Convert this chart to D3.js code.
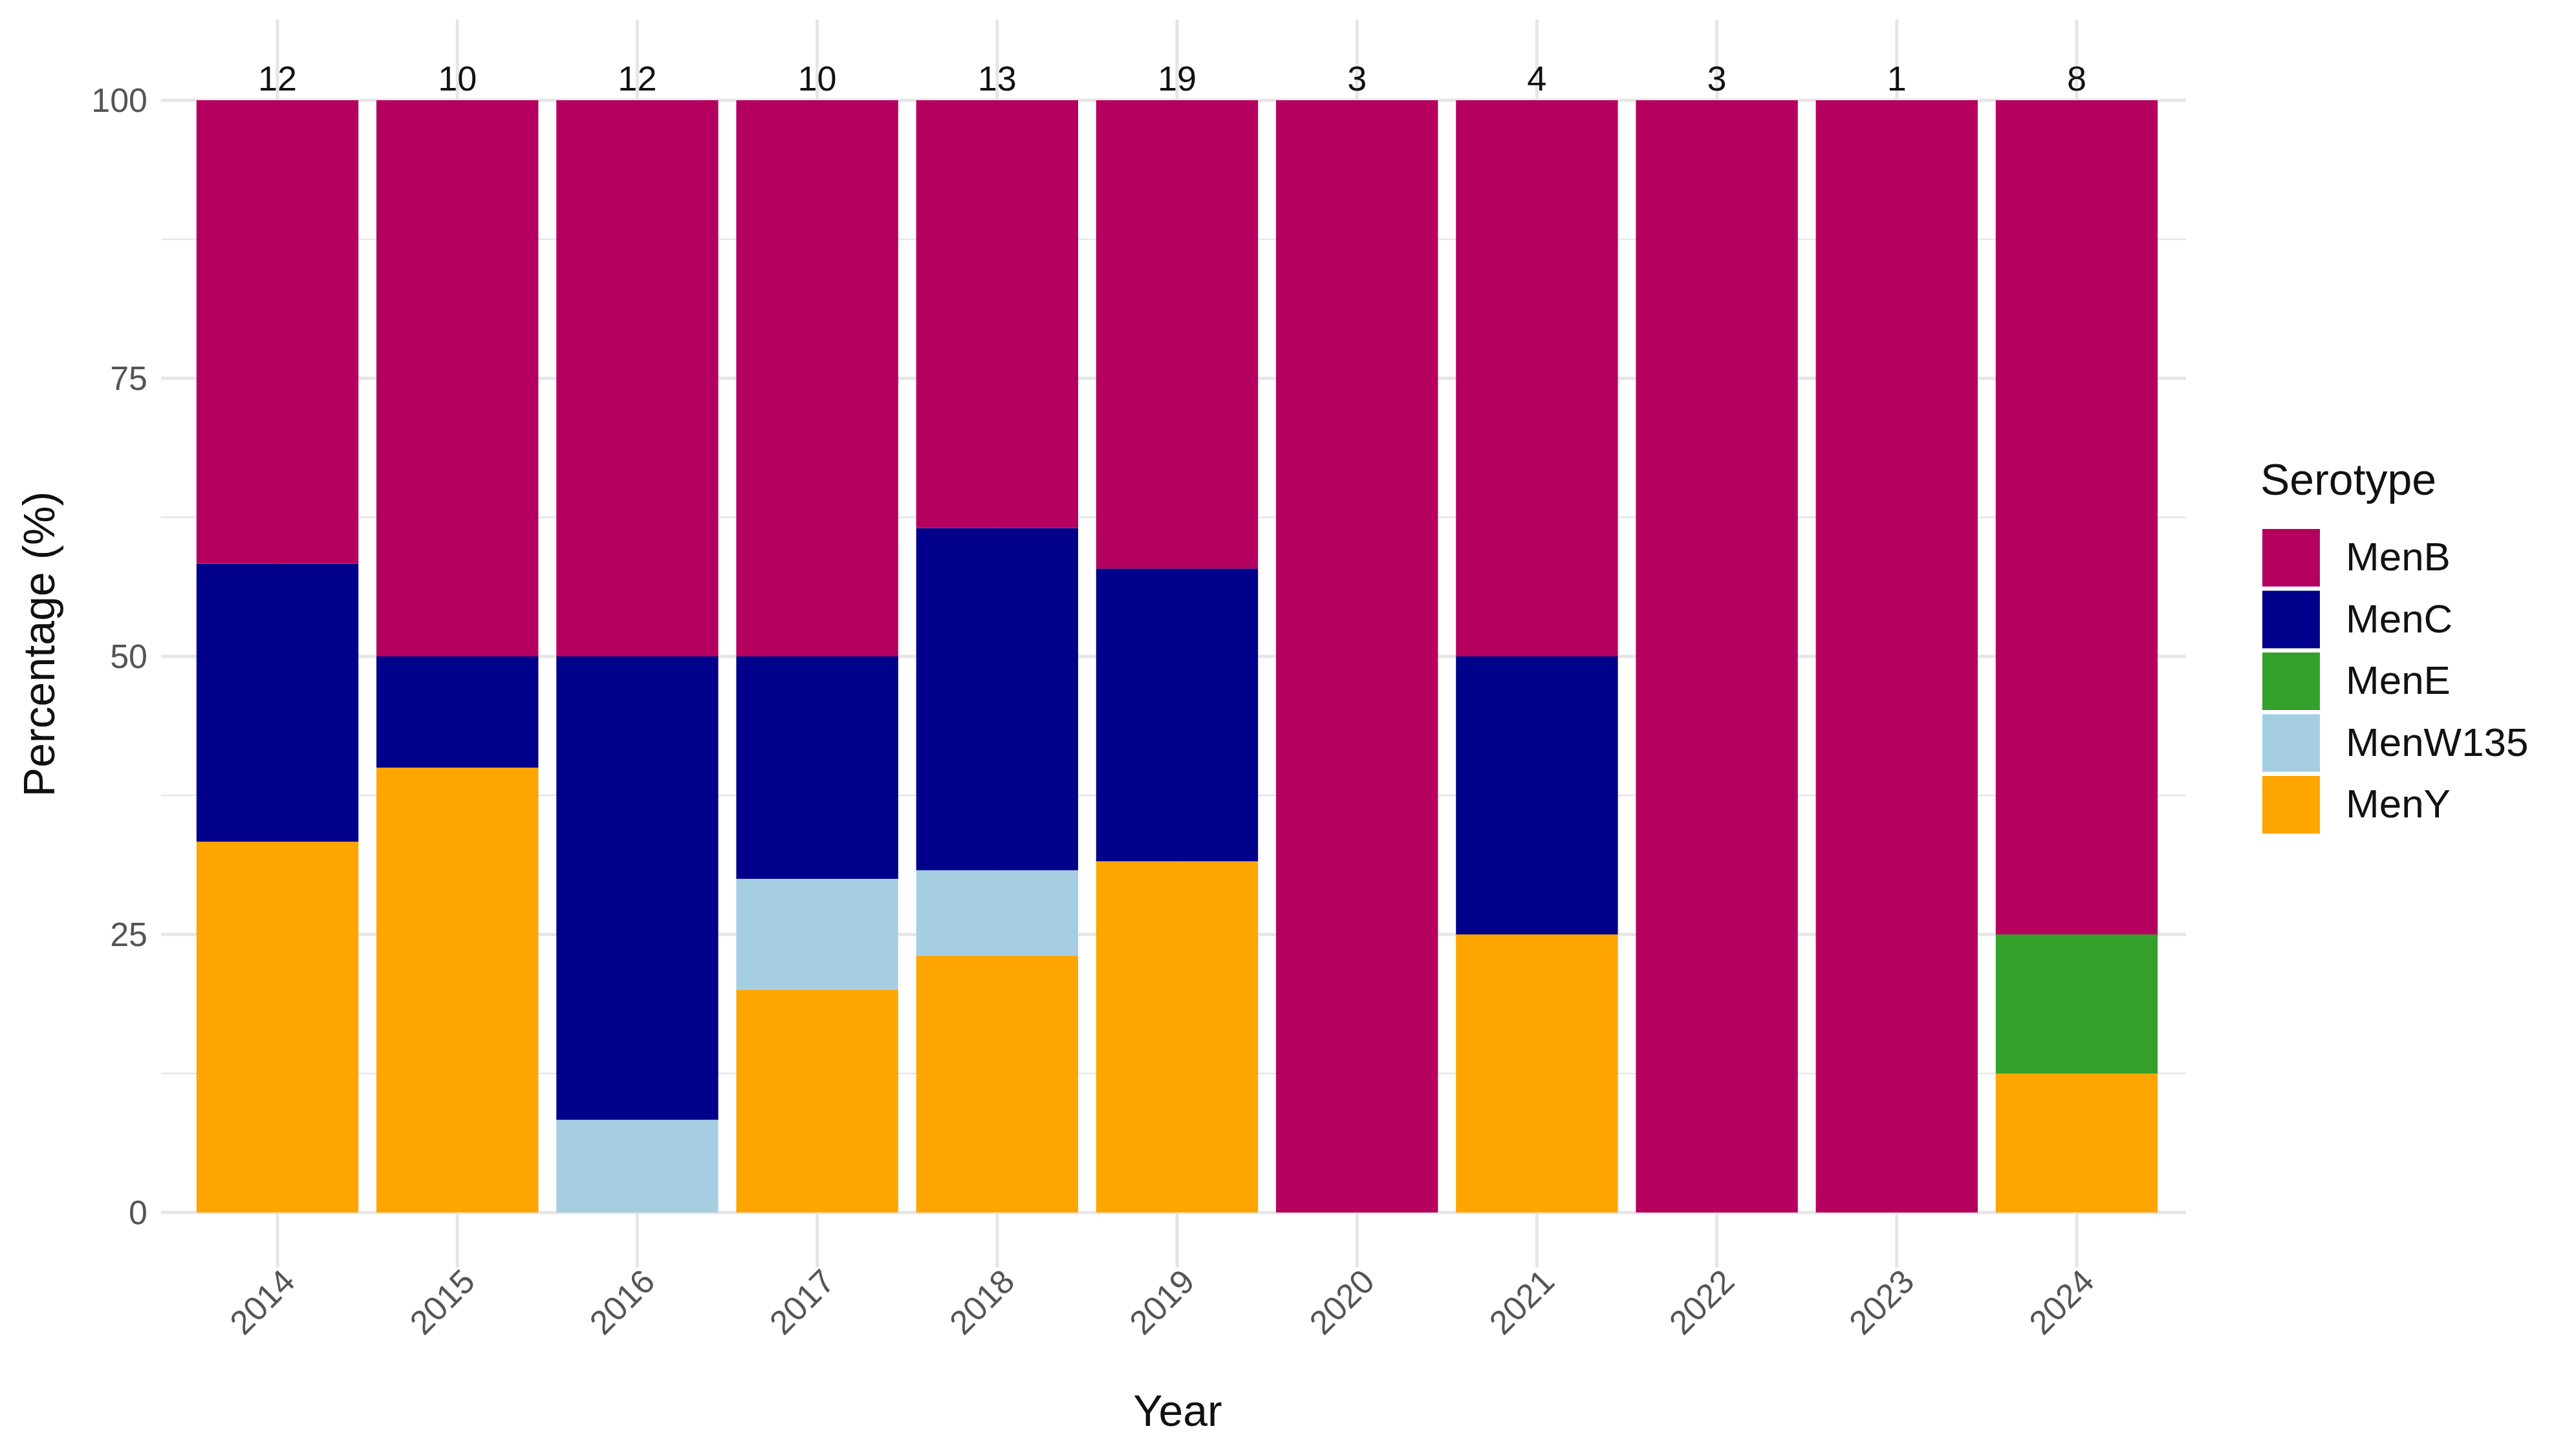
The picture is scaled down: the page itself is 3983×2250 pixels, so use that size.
<!DOCTYPE html>
<html><head><meta charset="utf-8">
<script src="https://cdn.jsdelivr.net/npm/d3@7"></script>
<style>body{margin:0;background:#fff}</style>
</head><body>
<svg id="c" width="3983" height="2250"></svg>
<script>
const years = ["2014","2015","2016","2017","2018","2019","2020","2021","2022","2023","2024"];
const totals = [12,10,12,10,13,19,3,4,3,1,8];
const serotypes = ["MenB","MenC","MenE","MenW135","MenY"];
const colors = ["#B5005F","#00008B","#33A02C","#A6CEE3","#FFA500"];
const menY    = [4,4,0,2,3,6,0,1,0,0,1];
const menW135 = [0,0,1,1,1,0,0,0,0,0,0];
const menE    = [0,0,0,0,0,0,0,0,0,0,1];
const menC    = [3,1,5,2,4,5,0,1,0,0,0];
const menB    = [5,5,6,5,5,8,3,2,3,1,6];
const yTicks = [0,25,50,75,100];

const counts = {MenY:menY, MenW135:menW135, MenE:menE, MenC:menC, MenB:menB};
const stackOrder = ["MenY","MenW135","MenE","MenC","MenB"];
const rows = years.map((y,i)=>{const r={year:y}; stackOrder.forEach(s=>r[s]=counts[s][i]/totals[i]*100); return r;});
const series = d3.stack().keys(stackOrder)(rows);
const color = d3.scaleOrdinal(serotypes, colors);

const svg = d3.select("#c");
const x = d3.scaleBand(years,[276,3364]).padding(0.1);
const y = d3.scaleLinear([0,100],[1875,155]);
const grid = svg.append("g");
d3.range(0,101,12.5).forEach(v=>{
  grid.append("line").attr("x1",249).attr("x2",3380).attr("y1",y(v)).attr("y2",y(v))
   .attr("stroke","#e6e6e6").attr("stroke-width",v%25===0?5:2.5);
});
years.forEach(yr=>{
  const cx=x(yr)+x.bandwidth()/2;
  grid.append("line").attr("x1",cx).attr("x2",cx).attr("y1",30).attr("y2",1960).attr("stroke","#e6e6e6").attr("stroke-width",5);
});
svg.append("g").selectAll("g").data(series).join("g").attr("fill",d=>color(d.key))
 .selectAll("rect").data(d=>d).join("rect")
 .attr("x",d=>x(d.data.year)).attr("width",x.bandwidth())
 .attr("y",d=>y(d[1])).attr("height",d=>y(d[0])-y(d[1]));
const font="Liberation Sans, Arial, sans-serif";
svg.append("g").selectAll("text").data(years).join("text")
 .attr("x",d=>x(d)+x.bandwidth()/2).attr("y",140).attr("text-anchor","middle")
 .attr("font-family",font).attr("font-size",54).attr("fill","#111").text((d,i)=>totals[i]);
svg.append("g").selectAll("text").data(yTicks).join("text")
 .attr("x",228).attr("y",d=>y(d)+18).attr("text-anchor","end")
 .attr("font-family",font).attr("font-size",52).attr("fill","#555").text(d=>d);
svg.append("g").selectAll("text").data(years).join("text")
 .attr("transform",d=>`translate(${x(d)+x.bandwidth()/2+30},${1985}) rotate(-45)`)
 .attr("text-anchor","end").attr("font-family",font).attr("font-size",52).attr("fill","#555").text(d=>d);
svg.append("text").attr("x",1821).attr("y",2205).attr("text-anchor","middle")
 .attr("font-family",font).attr("font-size",68).attr("fill","#111").text("Year");
svg.append("text").attr("transform","translate(84,996) rotate(-90)").attr("text-anchor","middle")
 .attr("font-family",font).attr("font-size",68).attr("fill","#111").text("Percentage (%)");
const lg=svg.append("g");
lg.append("text").attr("x",3495).attr("y",765).attr("font-family",font).attr("font-size",68).attr("fill","#111").text("Serotype");
serotypes.forEach((s,i)=>{
  const yy=818+i*95.5;
  lg.append("rect").attr("x",3498).attr("y",yy).attr("width",89).attr("height",89).attr("fill",color(s));
  lg.append("text").attr("x",3627).attr("y",yy+64).attr("font-family",font).attr("font-size",62).attr("fill","#111").text(s);
});
</script>
</body></html>
